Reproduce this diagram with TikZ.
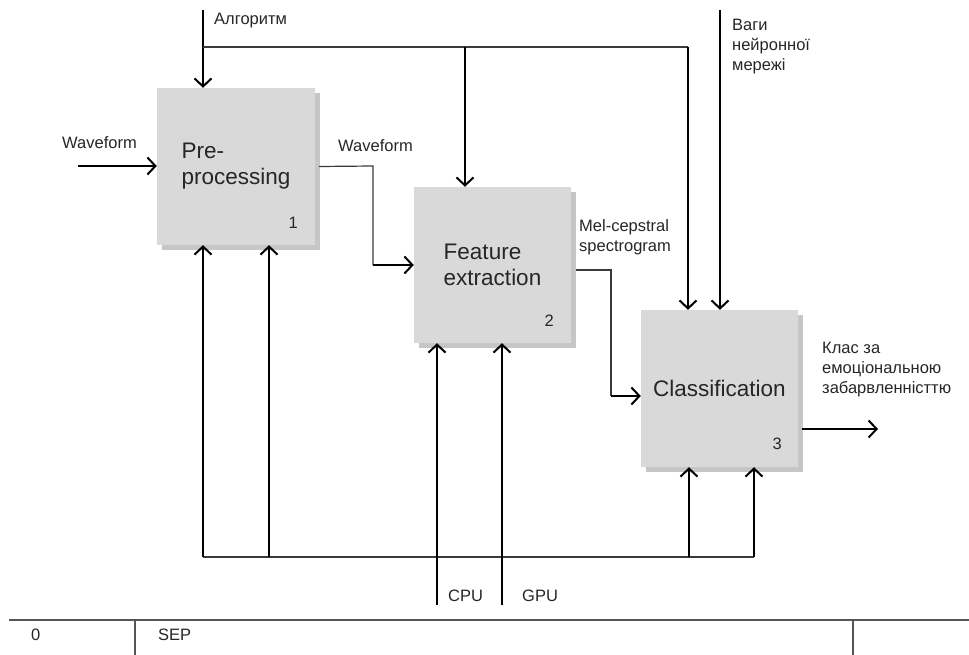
\documentclass[tikz,border=0pt]{standalone}
\usepackage{fontspec}
\setmainfont{Liberation Sans}
\usetikzlibrary{arrows.meta,shadows,calc}
\definecolor{boxgray}{HTML}{D9D9D9}
\definecolor{shadegray}{HTML}{C6C6C6}
\definecolor{ink}{HTML}{262626}
\definecolor{wire}{HTML}{3A3A3A}
\definecolor{rule}{HTML}{555555}
\begin{document}
\begin{tikzpicture}[x=1pt,y=-1pt,
  box/.style={rectangle, fill=boxgray, draw=none, inner sep=0pt,
    minimum width=157pt, minimum height=157pt, align=left,
    font=\fontsize{22.5}{26}\selectfont, text=ink,
    drop shadow={shadow xshift=5pt, shadow yshift=-5pt, fill=shadegray, opacity=1}},
  lbl/.style={inner sep=0pt, anchor=west, align=left,
    font=\fontsize{16.5}{20}\selectfont, text=ink},
  num/.style={inner sep=0pt, font=\fontsize{16.5}{20}\selectfont, text=ink},
  arrow/.style={draw=black, line width=2pt, -{Straight Barb[length=8pt,width=17pt]}},
  link/.style={draw=black, line width=2pt},
  thin/.style={draw=wire, line width=1.2pt},
  frame/.style={draw=rule, line width=1.4pt}]

\useasboundingbox (0,0) rectangle (969,655);

% function blocks
\node[box, minimum width=158pt] (b1) at (236,166.5) {Pre-\\processing};
\node[box, minimum height=156pt] (b2) at (492.5,265) {Feature\\extraction};
\node[box] (b3) at (719.5,388.5) {Classification};

\node[num] (n1) at ($(b1.south east)+(-22,-22)$) {1};
\node[num] (n2) at ($(b2.south east)+(-22,-22)$) {2};
\node[num] (n3) at ($(b3.south east)+(-21,-23)$) {3};

% controls from above
\coordinate (algo) at (203,10);
\coordinate (busL) at (203,47);
\coordinate (busM) at (465,47);
\coordinate (busR) at (688,47);
\coordinate (wts) at (720,10);
\draw[arrow] (algo) -- (algo |- b1.north);
\draw[thin] (busL) -- (busR);
\draw[arrow] (busM) -- (busM |- b2.north);
\draw[arrow] (busR) -- (busR |- b3.north);
\draw[arrow] (wts) -- (wts |- b3.north);
\node[lbl] (lalgo) at (214,21) {Алгоритм};
\node[lbl] (lwts) at (732,47) {Ваги\\нейронної\\мережі};

% input
\coordinate (win) at (78,166);
\draw[arrow] (win) -- (win -| b1.west);
\node[lbl] (lwin) at (62,143) {Waveform};

% block 1 to block 2
\coordinate (o1) at ($(b1.east)+(4,0)$);
\coordinate (k1) at (373,166);
\coordinate (k2) at (373,265);
\draw[thin] (o1) -- (k1) -- (k2);
\draw[arrow] (k2) -- (k2 -| b2.west);
\node[lbl] (lwout) at (338,146) {Waveform};

% block 2 to block 3
\coordinate (o2) at ($(b2.east)+(5,5)$);
\coordinate (k3) at (611,270);
\coordinate (k4) at (611,396);
\draw[thin] (o2) -- (k3) -- (k4);
\draw[arrow] (k4) -- (k4 -| b3.west);
\node[lbl] (lmel) at (579,237) {Mel-cepstral\\spectrogram};

% output
\coordinate (o3) at ($(b3.east)+(4,40.5)$);
\coordinate (out) at (878,429);
\draw[arrow] (o3) -- (out);
\node[lbl] (lout) at (822,370) {Клас за\\емоціональною\\забарвленністтю};

% mechanisms from below
\coordinate (m1) at (203,557);
\coordinate (m2) at (269,557);
\coordinate (m3) at (689,557);
\coordinate (m4) at (754,557);
\draw[thin] (m1) -- (m4);
\draw[arrow] (m1) -- (m1 |- b1.south);
\draw[arrow] (m2) -- (m2 |- b1.south);
\draw[arrow] (m3) -- (m3 |- b3.south);
\draw[arrow] (m4) -- (m4 |- b3.south);
\coordinate (cpu) at (437,605);
\coordinate (gpu) at (502,605);
\draw[arrow] (cpu) -- (cpu |- b2.south);
\draw[arrow] (gpu) -- (gpu |- b2.south);
\node[lbl] (lcpu) at (448,596) {CPU};
\node[lbl] (lgpu) at (522,596) {GPU};

% title strip
\coordinate (fl) at (9,620);
\coordinate (fr) at (969,620);
\coordinate (s1) at (135,620);
\coordinate (s2) at (853,620);
\draw[frame] (fl) -- (fr);
\draw[frame] (s1) -- (s1 |- 0,655);
\draw[frame] (s2) -- (s2 |- 0,655);
\node[lbl] (lnode) at (31,635) {0};
\node[lbl] (ltitle) at (158,635) {SEP};

\end{tikzpicture}
\end{document}
